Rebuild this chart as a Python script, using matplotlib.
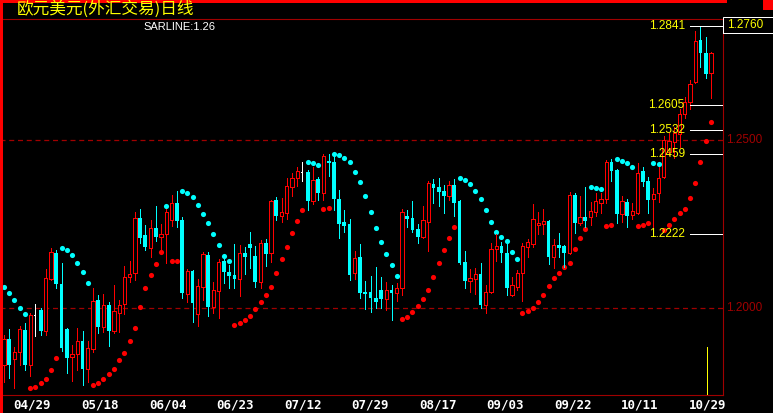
import numpy as np
import matplotlib.pyplot as plt
from matplotlib.patches import Rectangle

# EUR/USD daily bars
opens = [1.1831, 1.1909, 1.1849, 1.1870, 1.1935, 1.1831, 1.1980, 1.1995, 1.1932, 1.2087,
         1.2165, 1.2072, 1.1938, 1.1855, 1.1864, 1.1903, 1.1819, 1.1879, 1.2025, 1.1944,
         1.2010, 1.1932, 1.1986, 1.2013, 1.2093, 1.2105, 1.2269, 1.2218, 1.2180, 1.2239,
         1.2212, 1.2221, 1.2263, 1.2314, 1.2263, 1.2043, 1.2111, 1.1983, 1.2063, 1.2159,
         1.2004, 1.2052, 1.2141, 1.2108, 1.2099, 1.2087, 1.2165, 1.2192, 1.2156, 1.2078,
         1.2195, 1.2165, 1.2323, 1.2275, 1.2284, 1.2361, 1.2388, 1.2406, 1.2406, 1.2320,
         1.2385, 1.2344, 1.2439, 1.2436, 1.2326, 1.2257, 1.2251, 1.2105, 1.2153, 1.2049,
         1.2049, 1.2031, 1.2055, 1.2028, 1.2055, 1.2046, 1.2060, 1.2275, 1.2269, 1.2236,
         1.2212, 1.2257, 1.2370, 1.2361, 1.2350, 1.2335, 1.2367, 1.2320, 1.2138, 1.2081,
         1.2087, 1.2102, 1.2010, 1.2049, 1.2177, 1.2186, 1.2165, 1.2040, 1.2063, 1.2105,
         1.2183, 1.2192, 1.2248, 1.2251, 1.2260, 1.2153, 1.2189, 1.2186, 1.2165, 1.2338,
         1.2254, 1.2272, 1.2272, 1.2287, 1.2314, 1.2326, 1.2436, 1.2412, 1.2281, 1.2317,
         1.2278, 1.2284, 1.2409, 1.2379, 1.2326, 1.2344, 1.2391, 1.2466, 1.2496, 1.2519,
         1.2579, 1.2615, 1.2674, 1.2800, 1.2761, 1.2701]
highs = [1.1920, 1.1938, 1.1885, 1.1947, 1.1956, 1.1986, 1.2013, 1.2001, 1.2117, 1.2180,
         1.2174, 1.2135, 1.1940, 1.1891, 1.1941, 1.1932, 1.1903, 1.2060, 1.2040, 1.2043,
         1.2019, 1.2069, 1.2025, 1.2126, 1.2141, 1.2287, 1.2296, 1.2248, 1.2263, 1.2305,
         1.2251, 1.2296, 1.2338, 1.2350, 1.2272, 1.2117, 1.2114, 1.2087, 1.2168, 1.2168,
         1.2078, 1.2147, 1.2147, 1.2129, 1.2192, 1.2189, 1.2183, 1.2227, 1.2186, 1.2204,
         1.2207, 1.2323, 1.2332, 1.2329, 1.2388, 1.2403, 1.2421, 1.2436, 1.2412, 1.2421,
         1.2391, 1.2460, 1.2460, 1.2463, 1.2353, 1.2293, 1.2266, 1.2171, 1.2192, 1.2081,
         1.2096, 1.2123, 1.2093, 1.2078, 1.2069, 1.2075, 1.2296, 1.2293, 1.2320, 1.2251,
         1.2305, 1.2379, 1.2385, 1.2388, 1.2367, 1.2379, 1.2385, 1.2323, 1.2171, 1.2117,
         1.2120, 1.2135, 1.2069, 1.2195, 1.2221, 1.2198, 1.2198, 1.2093, 1.2114, 1.2195,
         1.2207, 1.2311, 1.2287, 1.2296, 1.2263, 1.2207, 1.2224, 1.2188, 1.2347, 1.2344,
         1.2335, 1.2361, 1.2317, 1.2344, 1.2344, 1.2442, 1.2445, 1.2415, 1.2335, 1.2326,
         1.2314, 1.2433, 1.2421, 1.2391, 1.2358, 1.2421, 1.2513, 1.2522, 1.2540, 1.2594,
         1.2630, 1.2680, 1.2826, 1.2841, 1.2808, 1.2764]
lows = [1.1780, 1.1792, 1.1762, 1.1831, 1.1816, 1.1798, 1.1917, 1.1920, 1.1920, 1.2084,
        1.2060, 1.1873, 1.1807, 1.1783, 1.1816, 1.1771, 1.1780, 1.1870, 1.1926, 1.1929,
        1.1888, 1.1926, 1.1929, 1.1983, 1.2078, 1.2084, 1.2195, 1.2174, 1.2153, 1.2201,
        1.2174, 1.2135, 1.2245, 1.2242, 1.2031, 1.2019, 1.1959, 1.1947, 1.2025, 1.1977,
        1.1986, 1.1971, 1.2075, 1.2060, 1.2060, 1.2037, 1.2102, 1.2120, 1.2063, 1.2060,
        1.2126, 1.2138, 1.2263, 1.2257, 1.2266, 1.2335, 1.2364, 1.2379, 1.2293, 1.2311,
        1.2323, 1.2323, 1.2394, 1.2293, 1.2209, 1.2227, 1.2084, 1.2087, 1.2031, 1.1998,
        1.1989, 1.2001, 1.2001, 1.1995, 1.1965, 1.2022, 1.2040, 1.2242, 1.2227, 1.2195,
        1.2209, 1.2171, 1.2314, 1.2305, 1.2284, 1.2323, 1.2275, 1.2132, 1.2060, 1.2049,
        1.2043, 1.2001, 1.1986, 1.2046, 1.2141, 1.2138, 1.2040, 1.2038, 1.2055, 1.2022,
        1.2153, 1.2183, 1.2221, 1.2221, 1.2132, 1.2120, 1.2153, 1.2123, 1.2162, 1.2224,
        1.2248, 1.2242, 1.2248, 1.2275, 1.2284, 1.2314, 1.2379, 1.2254, 1.2257, 1.2242,
        1.2266, 1.2281, 1.2364, 1.2284, 1.2236, 1.2317, 1.2388, 1.2457, 1.2448, 1.2481,
        1.2567, 1.2594, 1.2671, 1.2719, 1.2686, 1.2627]
closes = [1.1909, 1.1831, 1.1870, 1.1938, 1.1831, 1.1980, 1.1980, 1.1932, 1.2090, 1.2168,
          1.2072, 1.1882, 1.1852, 1.1864, 1.1903, 1.1819, 1.1882, 1.2022, 1.1944, 1.2010,
          1.1932, 1.1992, 1.2010, 1.2093, 1.2102, 1.2269, 1.2209, 1.2183, 1.2239, 1.2212,
          1.2221, 1.2287, 1.2314, 1.2260, 1.2046, 1.2111, 1.2016, 1.2066, 1.2162, 1.2004,
          1.2055, 1.2138, 1.2108, 1.2096, 1.2087, 1.2165, 1.2153, 1.2180, 1.2078, 1.2195,
          1.2162, 1.2320, 1.2275, 1.2287, 1.2364, 1.2388, 1.2409, 1.2406, 1.2320, 1.2382,
          1.2344, 1.2454, 1.2433, 1.2326, 1.2251, 1.2245, 1.2099, 1.2150, 1.2046, 1.2043,
          1.2031, 1.2019, 1.2028, 1.2055, 1.2046, 1.2060, 1.2287, 1.2266, 1.2233, 1.2212,
          1.2263, 1.2373, 1.2358, 1.2347, 1.2335, 1.2367, 1.2314, 1.2135, 1.2081, 1.2090,
          1.2102, 1.2010, 1.2049, 1.2177, 1.2186, 1.2165, 1.2060, 1.2069, 1.2105, 1.2186,
          1.2198, 1.2266, 1.2254, 1.2260, 1.2153, 1.2189, 1.2180, 1.2165, 1.2338, 1.2254,
          1.2272, 1.2260, 1.2290, 1.2320, 1.2326, 1.2436, 1.2409, 1.2281, 1.2320, 1.2275,
          1.2290, 1.2403, 1.2376, 1.2323, 1.2341, 1.2388, 1.2502, 1.2499, 1.2522, 1.2579,
          1.2615, 1.2668, 1.2797, 1.2761, 1.2698, 1.2760]
sar = [1.2063, 1.2046, 1.2025, 1.2001, 1.1983, 1.1762, 1.1765, 1.1777, 1.1789, 1.1816,
       1.1852, 1.2180, 1.2174, 1.2159, 1.2135, 1.2108, 1.2075, 1.1771, 1.1777, 1.1789,
       1.1804, 1.1819, 1.1846, 1.1867, 1.1903, 1.1941, 1.2004, 1.2060, 1.2099, 1.2132,
       1.2168, 1.2305, 1.2141, 1.2141, 1.2350, 1.2344, 1.2332, 1.2308, 1.2281, 1.2254,
       1.2221, 1.2189, 1.2156, 1.2141, 1.1950, 1.1956, 1.1965, 1.1977, 1.1998, 1.2019,
       1.2040, 1.2063, 1.2105, 1.2147, 1.2183, 1.2224, 1.2260, 1.2293, 1.2436, 1.2433,
       1.2427, 1.2296, 1.2299, 1.2460, 1.2457, 1.2448, 1.2436, 1.2406, 1.2376, 1.2335,
       1.2287, 1.2239, 1.2198, 1.2162, 1.2129, 1.2096, 1.1968, 1.1974, 1.1989, 1.2007,
       1.2028, 1.2055, 1.2093, 1.2135, 1.2174, 1.2209, 1.2242, 1.2388, 1.2382, 1.2370,
       1.2350, 1.2326, 1.2293, 1.2257, 1.2227, 1.2212, 1.2201, 1.2168, 1.2147, 1.1986,
       1.1992, 1.2001, 1.2019, 1.2040, 1.2066, 1.2090, 1.2105, 1.2123, 1.2135, 1.2177,
       1.2209, 1.2236, 1.2361, 1.2358, 1.2355, 1.2245, 1.2248, 1.2445, 1.2439, 1.2433,
       1.2421, 1.2245, 1.2248, 1.2254, 1.2433, 1.2430, 1.2233, 1.2248, 1.2266, 1.2284,
       1.2296, 1.2329, 1.2373, 1.2436, 1.2498, 1.2555]

date_labels = ['04/29', '05/18', '06/04', '06/23', '07/12', '07/29',
               '08/17', '09/03', '09/22', '10/11', '10/29']
date_pos = [5.35, 18.33, 31.32, 44.11, 57.09, 69.89, 82.87, 95.67, 108.65, 121.44, 134.43]

levels = [1.2841, 1.2605, 1.2532, 1.2459, 1.2222]
grid_levels = [1.2500, 1.2000]
last_price = '1.2760'
sar_last = 'SARLINE:1.26'

RED = '#ff0000'
CYAN = '#00ffff'
DARKRED = '#a00000'
YELLOW = '#ffff00'
PX = 0.72  # one pixel in points at dpi 100

W, H = 773, 413
fig = plt.figure(figsize=(W / 100, H / 100), dpi=100, facecolor='black')
ax = fig.add_axes([0, (H - 395) / H, 723 / W, (395 - 19.3) / H])
ax.set_facecolor('black')
ax.set_xlim(-0.76, 137.3)
ax.set_ylim(1.17417, 1.28609)

o = np.array(opens)
h = np.array(highs)
l = np.array(lows)
c = np.array(closes)
s = np.array(sar)
x = np.arange(len(o))
up = c > o
dn = c < o
fl = c == o

# grid lines at round prices
for g in grid_levels:
    ax.axhline(g, color=DARKRED, lw=0.9, ls=(0, (4, 3)), zorder=1)
    ax.text(1.004, g, f'{g:.4f}', transform=ax.get_yaxis_transform(), color=DARKRED,
            fontsize=8.5, family='Liberation Sans', va='center', ha='left', clip_on=False)

# SAR dots
ax.plot(x[s > c], s[s > c], 'o', color=CYAN, ms=3.7, mew=0, zorder=2)
ax.plot(x[s <= c], s[s <= c], 'o', color=RED, ms=3.7, mew=0, zorder=2)

# candles
ax.vlines(x[up], l[up], h[up], color=RED, lw=PX, zorder=3, antialiased=False)
ax.bar(x[up], (c - o)[up], bottom=o[up], width=0.62, facecolor='black',
       edgecolor=RED, lw=PX, zorder=4, antialiased=False)
ax.vlines(x[dn], l[dn], h[dn], color=CYAN, lw=PX, zorder=3, antialiased=False)
ax.bar(x[dn], (c - o)[dn], bottom=o[dn], width=0.72, color=CYAN, lw=0, zorder=4,
       antialiased=False)
ax.vlines(x[fl], l[fl], h[fl], color='white', lw=PX, zorder=3, antialiased=False)
ax.hlines(c[fl], x[fl] - 0.35, x[fl], color='white', lw=PX, zorder=3, antialiased=False)

# key levels on the right
tr = ax.get_yaxis_transform()
for lv in levels:
    ax.plot([0.954, 1.0], [lv, lv], color='white', lw=PX, transform=tr, zorder=5,
            antialiased=False)
    ax.text(0.947, lv, f'{lv:.4f}', transform=tr, color=YELLOW, fontsize=8.5,
            family='Liberation Sans', va='center', ha='right', zorder=5)

# cursor line near the last bar
ax.vlines(134.2, ax.get_ylim()[0], 1.1885, color=YELLOW, lw=PX, zorder=5, antialiased=False)

for side in ['top', 'bottom', 'right']:
    ax.spines[side].set_color(DARKRED)
    ax.spines[side].set_linewidth(0.8)
ax.spines['left'].set_visible(False)
ax.set_yticks([])
ax.set_xticks(date_pos)
ax.set_xticklabels(date_labels, color='white', family='DejaVu Sans Mono',
                   fontweight='bold', fontsize=9)
ax.tick_params(axis='x', length=0, pad=2.5)

# frame decorations
fig.add_artist(Rectangle((0, 0), 3 / W, 1, transform=fig.transFigure, color=RED, lw=0))
fig.add_artist(Rectangle((0, 1 - 3 / H), 727 / W, 3 / H, transform=fig.transFigure,
                         color=RED, lw=0))
fig.add_artist(Rectangle((763 / W, 1 - 10 / H), 10 / W, 10 / H, transform=fig.transFigure,
                         color=RED, lw=0))
fig.add_artist(Rectangle((723 / W, (H - 33) / H), 52 / W, 16 / H, transform=fig.transFigure,
                         fill=False, edgecolor='white', lw=PX))

fig.text(745 / W, 1 - 25 / H, last_price, color=YELLOW, fontsize=8.5,
         family='Liberation Sans', ha='center', va='center')
fig.text(17 / W, 1 - 9 / H, '欧元美元(外汇交易)日线', color=YELLOW, fontsize=12,
         family=['Noto Sans CJK SC', 'DejaVu Sans'], va='center', ha='left')
fig.text(143 / W, 1 - 26.7 / H, sar_last, color='white', fontsize=8,
         family='Liberation Sans', va='center', ha='left')

fig.savefig('out.png', dpi=100, facecolor='black')
